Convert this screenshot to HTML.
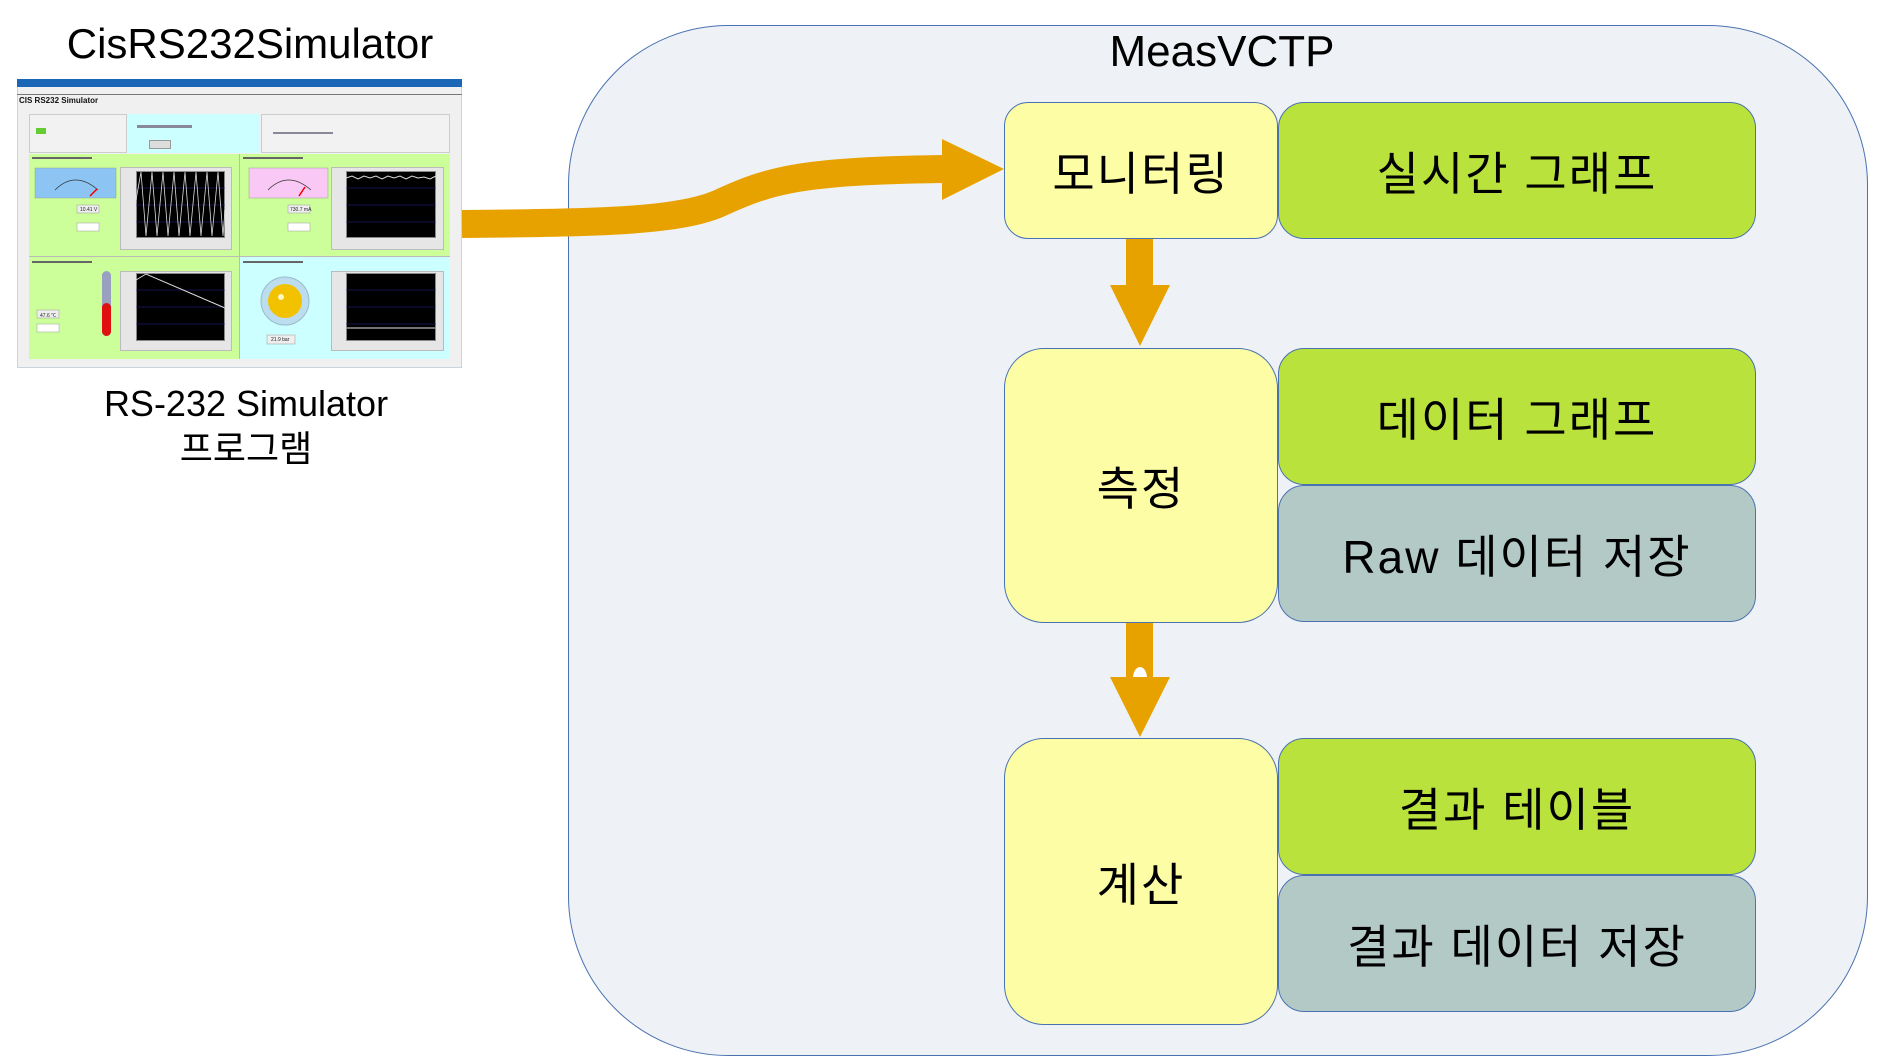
<!DOCTYPE html>
<html><head><meta charset="utf-8"><style>
*{margin:0;padding:0;box-sizing:border-box}
body{width:1884px;height:1063px;background:#fff;position:relative;overflow:hidden;font-family:"Liberation Sans","Noto Sans CJK KR",sans-serif}
.a{position:absolute}
.t{position:absolute;color:#000;white-space:nowrap;text-align:center;font-family:"Liberation Sans","Noto Sans CJK KR",sans-serif}
.box{position:absolute;border:1.3px solid #4a72b0;display:flex;align-items:center;justify-content:center;font-size:46px;letter-spacing:2px;color:#000;font-family:"Liberation Sans","Noto Sans CJK KR",sans-serif}
.y{background:#fdfda5}
.g{background:#b9e33c;border-radius:26px}
.s{background:#b3c9c6;border-radius:26px}
.plot{position:absolute;background:#000;border:1px solid #888}
.frame{position:absolute;background:#e6e6e6;border:1px solid #bbb}
.sm{position:absolute;font-size:5px;color:#222;white-space:nowrap}
</style></head><body>

<div class="t" style="left:30px;top:16px;width:440px;font-size:42px;line-height:56px">CisRS232Simulator</div>
<div class="t" style="left:40px;top:382px;width:412px;font-size:36px;line-height:44px">RS-232 Simulator</div>
<div class="t" style="left:40px;top:426px;width:412px;font-size:36px;line-height:46px">프로그램</div>

<div class="a" style="left:17px;top:79px;width:445px;height:289px;background:#f0f0f0;border:1px solid #c8d4e0"></div>
<div class="a" style="left:17px;top:79px;width:445px;height:8px;background:#1c66b8"></div>
<div class="a" style="left:17px;top:94px;width:445px;height:1px;background:#777"></div>
<div class="a" style="left:19px;top:96px;font-size:8px;font-weight:bold;color:#111">CIS RS232 Simulator</div>
<div class="a" style="left:29px;top:114px;width:98px;height:39px;background:#f2f2f2;border:1px solid #ccc"></div>
<div class="a" style="left:36px;top:128px;width:10px;height:6px;background:#6c3"></div>
<div class="a" style="left:128px;top:114px;width:132px;height:39px;background:#cff"></div>
<div class="a" style="left:137px;top:125px;width:55px;height:3px;background:#889"></div>
<div class="a" style="left:149px;top:140px;width:22px;height:9px;background:#ddd;border:1px solid #999"></div>
<div class="a" style="left:261px;top:114px;width:189px;height:39px;background:#f2f2f2;border:1px solid #ccc"></div>
<div class="a" style="left:273px;top:132px;width:60px;height:2px;background:#889"></div>

<div class="a" style="left:29px;top:154px;width:210px;height:102px;background:#cf9"></div>
<div class="a" style="left:239px;top:154px;width:211px;height:102px;background:#cf9"></div>
<div class="a" style="left:29px;top:257px;width:210px;height:102px;background:#cf9"></div>
<div class="a" style="left:239px;top:257px;width:211px;height:102px;background:#cff"></div>
<div class="a" style="left:29px;top:256px;width:421px;height:1px;background:#bbb"></div>
<div class="a" style="left:239px;top:154px;width:1px;height:205px;background:#bbb"></div>
<div class="a" style="left:32px;top:157px;width:60px;height:2px;background:#666"></div>
<div class="a" style="left:243px;top:157px;width:60px;height:2px;background:#666"></div>
<div class="a" style="left:32px;top:261px;width:60px;height:2px;background:#666"></div>
<div class="a" style="left:243px;top:261px;width:60px;height:2px;background:#666"></div>

<div class="frame" style="left:120px;top:167px;width:112px;height:83px"></div>
<div class="plot" style="left:136px;top:171px;width:89px;height:67px"></div>
<div class="frame" style="left:331px;top:167px;width:113px;height:83px"></div>
<div class="plot" style="left:346px;top:171px;width:90px;height:67px"></div>
<div class="frame" style="left:120px;top:271px;width:112px;height:80px"></div>
<div class="plot" style="left:136px;top:273px;width:89px;height:68px"></div>
<div class="frame" style="left:331px;top:271px;width:113px;height:80px"></div>
<div class="plot" style="left:346px;top:273px;width:90px;height:68px"></div>
<svg class="a" style="left:0;top:0" width="470" height="370">
<g stroke="#2a2a9a" stroke-width="0.5">
<line x1="136" y1="188" x2="225" y2="188"/><line x1="136" y1="205" x2="225" y2="205"/><line x1="136" y1="222" x2="225" y2="222"/>
<line x1="346" y1="188" x2="436" y2="188"/><line x1="346" y1="205" x2="436" y2="205"/><line x1="346" y1="222" x2="436" y2="222"/>
<line x1="136" y1="290" x2="225" y2="290"/><line x1="136" y1="307" x2="225" y2="307"/><line x1="136" y1="324" x2="225" y2="324"/>
<line x1="346" y1="290" x2="436" y2="290"/><line x1="346" y1="307" x2="436" y2="307"/><line x1="346" y1="324" x2="436" y2="324"/>
</g>
<polyline fill="none" stroke="#ddd" stroke-width="0.8" points="136,200 141,172 146,236 152,172 157,236 163,172 168,236 174,172 179,236 185,172 190,236 196,172 201,236 207,172 212,236 218,172 223,236 225,210"/>
<polyline fill="none" stroke="#ddd" stroke-width="1" points="346,178 352,176 358,179 364,176 370,178 376,176 382,179 388,176 394,178 400,176 406,179 412,176 418,178 424,177 430,179 436,176"/>
<polyline fill="none" stroke="#ddd" stroke-width="1" points="136,280 146,274 225,308"/>
<line x1="346" y1="328" x2="436" y2="328" stroke="#999" stroke-width="1.5"/>
<rect x="35" y="168" width="81" height="30" fill="#8cc4f4" stroke="#999" stroke-width="0.5"/>
<path d="M55,190 Q75,170 98,190" fill="none" stroke="#333" stroke-width="0.7"/>
<line x1="90" y1="196" x2="97" y2="189" stroke="#e00" stroke-width="1.5"/>
<rect x="249" y="168" width="79" height="30" fill="#f9c8f4" stroke="#999" stroke-width="0.5"/>
<path d="M268,190 Q288,170 311,190" fill="none" stroke="#333" stroke-width="0.7"/>
<line x1="299" y1="196" x2="305" y2="187" stroke="#e00" stroke-width="1.5"/>
<rect x="77" y="205" width="22" height="8" fill="#eee" stroke="#999" stroke-width="0.5"/>
<rect x="77" y="223" width="22" height="8" fill="#fff" stroke="#999" stroke-width="0.5"/>
<rect x="288" y="205" width="22" height="8" fill="#eee" stroke="#999" stroke-width="0.5"/>
<rect x="288" y="223" width="22" height="8" fill="#fff" stroke="#999" stroke-width="0.5"/>
<rect x="37" y="310" width="22" height="8" fill="#eee" stroke="#999" stroke-width="0.5"/>
<rect x="37" y="324" width="22" height="8" fill="#fff" stroke="#999" stroke-width="0.5"/>
<rect x="267" y="335" width="28" height="9" fill="#eee" stroke="#999" stroke-width="0.5"/>
<rect x="102" y="271" width="9" height="65" rx="4.5" fill="#9aa0c0"/>
<rect x="102" y="303" width="9" height="33" rx="4.5" fill="#e01010"/>
<circle cx="285" cy="301" r="24" fill="#bde" stroke="#9bc" stroke-width="1"/>
<circle cx="285" cy="301" r="17" fill="#f2c200"/>
<circle cx="281" cy="297" r="3" fill="#fff8c0"/>
</svg>
<div class="sm" style="left:80px;top:207px">10.41 V</div>
<div class="sm" style="left:290px;top:207px">730.7 mA</div>
<div class="sm" style="left:40px;top:312px">47.6 ℃</div>
<div class="sm" style="left:271px;top:337px">21.9 bar</div>

<div class="a" style="left:568px;top:25px;width:1300px;height:1031px;background:#eef2f7;border:1.3px solid #4a72b0;border-radius:160px"></div>
<div class="t" style="left:1100px;top:24px;width:244px;font-size:44px;line-height:56px">MeasVCTP</div>

<svg class="a" style="left:0;top:0" width="1884" height="1063">
<path d="M462,224 C600,223 680,221 720,203 C770,180 800,171 944,169" fill="none" stroke="#e8a200" stroke-width="28"/>
<polygon points="942,139 1004,169 942,200" fill="#e8a200"/>
<rect x="1126" y="239" width="27" height="47" fill="#e8a200"/>
<polygon points="1110,285 1170,285 1140,346" fill="#e8a200"/>
<rect x="1126" y="623" width="27" height="55" fill="#e8a200"/>
<path d="M1133,678 A7,11 0 0 1 1147,678 Z" fill="#fff"/>
<polygon points="1110,677 1170,677 1140,737" fill="#e8a200"/>
</svg>

<div class="box y" style="left:1004px;top:102px;width:274px;height:137px;border-radius:24px">모니터링</div>
<div class="box g" style="left:1278px;top:102px;width:478px;height:137px">실시간 그래프</div>

<div class="box y" style="left:1004px;top:348px;width:274px;height:275px;border-radius:40px">측정</div>
<div class="box g" style="left:1278px;top:348px;width:478px;height:137px">데이터 그래프</div>
<div class="box s" style="left:1278px;top:485px;width:478px;height:137px">Raw 데이터 저장</div>

<div class="box y" style="left:1004px;top:738px;width:274px;height:287px;border-radius:40px">계산</div>
<div class="box g" style="left:1278px;top:738px;width:478px;height:137px">결과 테이블</div>
<div class="box s" style="left:1278px;top:875px;width:478px;height:137px">결과 데이터 저장</div>
</body></html>
